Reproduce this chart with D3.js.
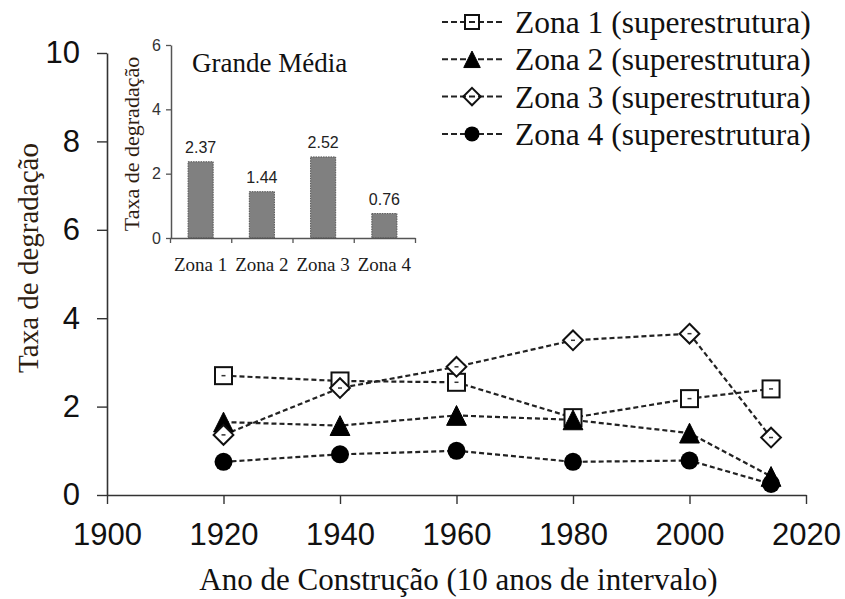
<!DOCTYPE html>
<html>
<head>
<meta charset="utf-8">
<script src="https://cdn.jsdelivr.net/npm/d3@7"></script>
<style>
  html, body { margin: 0; padding: 0; background: #fff; }
  svg { display: block; }
</style>
</head>
<body>
<svg id="chart" width="845" height="599"></svg>
<script>
// Construction year of each sample group
const years = [1920, 1940, 1960, 1980, 2000, 2014];

// Degradation rate per zone (superstructure)
const zona1 = [2.70, 2.58, 2.55, 1.75, 2.18, 2.40];
const zona2 = [1.65, 1.57, 1.80, 1.70, 1.40, 0.42];
const zona3 = [1.36, 2.42, 2.90, 3.50, 3.65, 1.30];
const zona4 = [0.75, 0.92, 1.00, 0.75, 0.78, 0.25];

const seriesNames = [
  "Zona 1 (superestrutura)",
  "Zona 2 (superestrutura)",
  "Zona 3 (superestrutura)",
  "Zona 4 (superestrutura)"
];
const markerTypes = ["square", "triangle", "diamond", "circle"];

// Overall mean per zone (inset)
const insetCategories = ["Zona 1", "Zona 2", "Zona 3", "Zona 4"];
const insetMeans = [2.37, 1.44, 2.52, 0.76];

const xTicks = [1900, 1920, 1940, 1960, 1980, 2000, 2020];
const yTicks = [0, 2, 4, 6, 8, 10];
const insetYTicks = [0, 2, 4, 6];

const svg = d3.select("#chart");
const serif = "'Liberation Serif', 'Times New Roman', serif";
const sans = "'Liberation Sans', Arial, sans-serif";
const titleColor = "#2e2010";

// ---- main scales ----
const x = d3.scaleLinear().domain([1900, 2020]).range([107, 806]);
const y = d3.scaleLinear().domain([0, 10]).range([495, 53]);

// x axis
const gx = svg.append("g")
  .attr("transform", `translate(0,${y(0)})`)
  .call(d3.axisBottom(x).tickValues(xTicks).tickFormat(d3.format("d"))
    .tickSize(9).tickSizeOuter(0).tickPadding(19));
gx.select(".domain").attr("stroke", "#333").attr("stroke-width", 1.6);
gx.selectAll(".tick line").attr("stroke", "#333").attr("stroke-width", 1.4);
gx.selectAll(".tick text").attr("font-family", sans).attr("font-size", 31).attr("fill", "#111");

// y axis
const gy = svg.append("g")
  .attr("transform", `translate(${x(1900)},0)`)
  .call(d3.axisLeft(y).tickValues(yTicks).tickSize(10).tickSizeOuter(0).tickPadding(17));
gy.select(".domain").attr("stroke", "#333").attr("stroke-width", 1.6);
gy.selectAll(".tick line").attr("stroke", "#333").attr("stroke-width", 1.4);
gy.selectAll(".tick text").attr("font-family", sans).attr("font-size", 31).attr("fill", "#111");

// axis titles
svg.append("text")
  .attr("x", (x(1900) + x(2020)) / 2 + 2)
  .attr("y", 590)
  .attr("text-anchor", "middle")
  .attr("font-family", serif).attr("font-size", 31).attr("fill", "#111")
  .text("Ano de Construção (10 anos de intervalo)");

svg.append("text")
  .attr("transform", "translate(38,258) rotate(-90)")
  .attr("text-anchor", "middle")
  .attr("font-family", serif).attr("font-size", 29).attr("fill", titleColor)
  .text("Taxa de degradação");

// ---- marker drawing ----
function drawMarker(g, type, cx, cy, s, inLegend) {
  if (type === "square") {
    g.append("rect").attr("x", cx - s / 2).attr("y", cy - s / 2)
      .attr("width", s).attr("height", s)
      .attr("fill", inLegend ? "none" : "#fff").attr("stroke", "#111").attr("stroke-width", 2);
  } else if (type === "diamond") {
    const r = s * 0.58;
    g.append("path").attr("d", `M${cx},${cy - r}L${cx + r},${cy}L${cx},${cy + r}L${cx - r},${cy}Z`)
      .attr("fill", inLegend ? "none" : "#fff").attr("stroke", "#111").attr("stroke-width", 2);
  } else if (type === "triangle") {
    const h = s * 1.1, w = s * 1.1;
    g.append("path").attr("d", `M${cx},${cy - h / 2}L${cx + w / 2},${cy + h / 2}L${cx - w / 2},${cy + h / 2}Z`)
      .attr("fill", "#000").attr("stroke", "#000").attr("stroke-width", 1);
  } else {
    g.append("circle").attr("cx", cx).attr("cy", cy).attr("r", s / 2)
      .attr("fill", "#000");
  }
  if (!inLegend && (type === "square" || type === "diamond")) {
    g.append("line").attr("x1", cx - 2).attr("x2", cx + 2).attr("y1", cy).attr("y2", cy)
      .attr("stroke", "#333").attr("stroke-width", 1.5);
  }
}

// ---- series ----
const allSeries = [zona1, zona2, zona3, zona4];
const line = d3.line().x(d => x(d[0])).y(d => y(d[1]));

const linesG = svg.append("g");
allSeries.forEach(vals => {
  const pts = years.map((yr, i) => [yr, vals[i]]);
  linesG.append("path")
    .attr("d", line(pts))
    .attr("fill", "none")
    .attr("stroke", "#222")
    .attr("stroke-width", 2.2)
    .attr("stroke-dasharray", "5,3");
});

const marksG = svg.append("g");
allSeries.forEach((vals, si) => {
  const type = markerTypes[si];
  const size = type === "circle" ? 18 : (type === "triangle" ? 18 : 17);
  years.forEach((yr, i) => drawMarker(marksG, type, x(yr), y(vals[i]), size, false));
});

// ---- legend ----
const legend = svg.append("g");
seriesNames.forEach((name, i) => {
  const cy = 22 + i * 37.3;
  legend.append("line")
    .attr("x1", 442).attr("x2", 505).attr("y1", cy).attr("y2", cy)
    .attr("stroke", "#222").attr("stroke-width", 2).attr("stroke-dasharray", "6,3");
  const type = markerTypes[i];
  drawMarker(legend, type, 472, cy, type === "square" ? 14 : 15, true);
  legend.append("text")
    .attr("x", 515).attr("y", cy + 11)
    .attr("font-family", serif).attr("font-size", 31.5).attr("fill", "#111")
    .text(name);
});

// ---- inset: overall means ----
const ix = d3.scaleBand().domain(insetCategories).range([170, 415])
  .paddingInner(0.59).paddingOuter(0.295);
const ixTicks = d3.scaleLinear().domain([0, insetCategories.length]).range([170, 415]);
const iy = d3.scaleLinear().domain([0, 6]).range([238, 45]);

const inset = svg.append("g");

inset.selectAll("rect.bar")
  .data(insetMeans)
  .join("rect")
  .attr("class", "bar")
  .attr("x", (d, i) => ix(insetCategories[i]))
  .attr("y", d => iy(d))
  .attr("width", ix.bandwidth())
  .attr("height", d => iy(0) - iy(d))
  .attr("fill", "#808080")
  .attr("stroke", "#555")
  .attr("stroke-width", 1)
  .attr("stroke-dasharray", "1.5,1");

inset.selectAll("text.val")
  .data(insetMeans)
  .join("text")
  .attr("class", "val")
  .attr("x", (d, i) => ix(insetCategories[i]) + ix.bandwidth() / 2)
  .attr("y", d => iy(d) - 9)
  .attr("text-anchor", "middle")
  .attr("font-family", sans).attr("font-size", 16).attr("fill", "#222")
  .text(d => d.toFixed(2));

const igx = inset.append("g")
  .attr("transform", `translate(0,${iy(0)})`)
  .call(d3.axisBottom(ixTicks).tickValues(d3.range(insetCategories.length + 1))
    .tickFormat("").tickSize(5).tickSizeOuter(0));
igx.select(".domain").attr("stroke", "#555").attr("stroke-width", 1.5);
igx.selectAll(".tick line").attr("stroke", "#555").attr("stroke-width", 1.3);

inset.selectAll("text.cat")
  .data(insetCategories)
  .join("text")
  .attr("class", "cat")
  .attr("x", d => ix(d) + ix.bandwidth() / 2)
  .attr("y", 271)
  .attr("text-anchor", "middle")
  .attr("font-family", serif).attr("font-size", 19).attr("fill", "#1a1a1a")
  .text(d => d);

const igy = inset.append("g")
  .attr("transform", `translate(171,0)`)
  .call(d3.axisLeft(iy).tickValues(insetYTicks).tickFormat(d3.format("d"))
    .tickSize(5).tickSizeOuter(0).tickPadding(5));
igy.select(".domain").attr("stroke", "#555").attr("stroke-width", 1.5);
igy.selectAll(".tick line").attr("stroke", "#555").attr("stroke-width", 1.3);
igy.selectAll(".tick text").attr("font-family", sans).attr("font-size", 16).attr("fill", "#333");

inset.append("text")
  .attr("transform", "translate(139,144) rotate(-90)")
  .attr("text-anchor", "middle")
  .attr("font-family", serif).attr("font-size", 22).attr("fill", titleColor)
  .text("Taxa de degradação");

inset.append("text")
  .attr("x", 192).attr("y", 72)
  .attr("font-family", serif).attr("font-size", 27).attr("fill", "#111")
  .text("Grande Média");
</script>
</body>
</html>
